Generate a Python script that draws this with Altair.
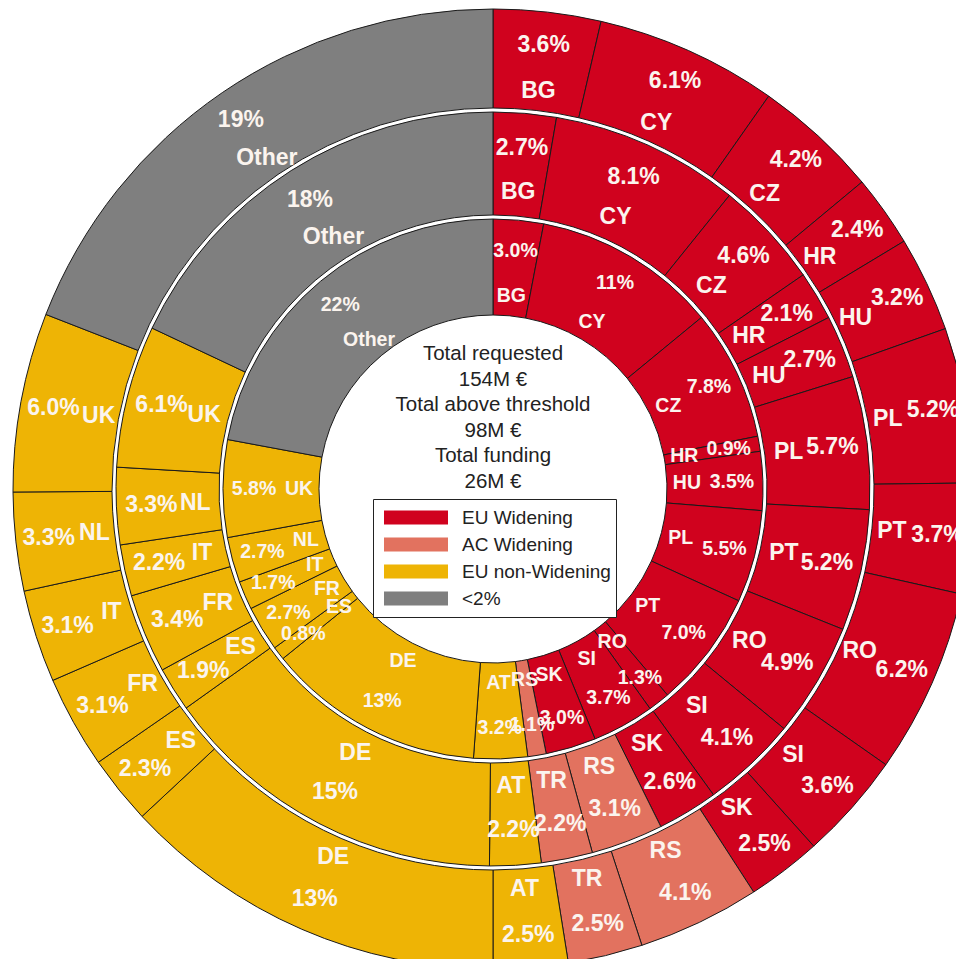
import math
import altair as alt
import pandas as pd

# ---- data ----
codes = ["BG", "CY", "CZ", "HR", "HU", "PL", "PT", "RO", "SI", "SK",
         "RS", "TR", "AT", "DE", "ES", "FR", "IT", "NL", "UK", "Other"]
groups = (["EU Widening"] * 10 + ["AC Widening"] * 2 +
          ["EU non-Widening"] * 7 + ["<2%"])

outer_values = [3.6, 6.1, 4.2, 2.4, 3.2, 5.2, 3.7, 6.2, 3.6, 2.5,
                4.1, 2.5, 2.5, 13, 2.3, 3.1, 3.1, 3.3, 6.0, 19]
middle_values = [2.7, 8.1, 4.6, 2.1, 2.7, 5.7, 5.2, 4.9, 4.1, 2.6,
                 3.1, 2.2, 2.2, 15, 1.9, 3.4, 2.2, 3.3, 6.1, 18]
# inner ring has no TR segment
inner_codes = [c for c in codes if c != "TR"]
inner_groups = [g for c, g in zip(codes, groups) if c != "TR"]
inner_values = [3.0, 11, 7.8, 0.9, 3.5, 5.5, 7.0, 1.3, 3.7, 3.0,
                1.1, 3.2, 13, 0.8, 2.7, 1.7, 2.7, 5.8, 22]

legend_labels = ["EU Widening", "AC Widening", "EU non-Widening", "<2%"]
legend_colors = ["#D0021E", "#E2725F", "#EEB405", "#7F7F7F"]

center_lines = ["Total requested", "154M €", "Total above threshold",
                "98M €", "Total funding", "26M €"]


def fmt(v):
    return f"{v:.0f}%" if v >= 10 else f"{v:.1f}%"


rows = []
for ring, cs, gs, vs in [("outer", codes, groups, outer_values),
                         ("middle", codes, groups, middle_values),
                         ("inner", inner_codes, inner_groups, inner_values)]:
    for i, (c, g, v) in enumerate(zip(cs, gs, vs)):
        rows.append({"ring": ring, "order": i, "code": c, "group": g,
                     "value": v, "pct": fmt(v)})
df = pd.DataFrame(rows)

CX, CY = 485, 481  # centre of the rings inside the view

theta_scale = alt.Scale(domain=[0, 1], range=[0, 2 * math.pi])
color = alt.Color(
    "group:N",
    scale=alt.Scale(domain=legend_labels, range=legend_colors),
    legend=alt.Legend(
        title=None, orient="none", legendX=365, legendY=491,
        direction="vertical",
        symbolType="M-1,-0.22H1V0.22H-1Z", symbolSize=4096,
        symbolStrokeWidth=0, symbolOffset=6, clipHeight=27, rowPadding=0,
        labelFontSize=19, labelFont="Liberation Sans", labelColor="#222222",
        labelOffset=14, padding=5, strokeColor="#222222", fillColor="white",
        labelLimit=300,
    ),
)

rings = {
    "outer": dict(inner=381, outer=480, code_r=401, pct_r=447, fs=23),
    "middle": dict(inner=274, outer=377, code_r=298, pct_r=342, fs=23),
    "inner": dict(inner=174, outer=270, code_r=194, pct_r=239, fs=19.5),
}

layers = []
for name, r in rings.items():
    f = alt.datum.ring == name
    layers.append(
        alt.Chart().mark_arc(innerRadius=r["inner"], outerRadius=r["outer"],
                             stroke="#1a1a1a", strokeWidth=1)
        .encode(x=alt.value(CX), y=alt.value(CY),
                theta=alt.Theta("start:Q", scale=theta_scale),
                theta2="end:Q", color=color)
        .transform_filter(f)
    )
for name, r in rings.items():
    f = alt.datum.ring == name
    for field, rad in [("code", r["code_r"]), ("pct", r["pct_r"])]:
        layers.append(
            alt.Chart().mark_text(radius=rad, font="Liberation Sans",
                                  fontWeight="bold", fontSize=r["fs"],
                                  color="#FBF4EE", align="center",
                                  baseline="middle")
            .encode(x=alt.value(CX), y=alt.value(CY),
                    theta=alt.Theta("mid:Q", scale=theta_scale),
                    text=f"{field}:N")
            .transform_filter(f)
        )

center = alt.Chart().mark_text(
    font="Liberation Sans", fontSize=20.5, color="#222222",
    lineHeight=25.6, dy=-135, align="center", baseline="middle"
).encode(
    x=alt.value(CX), y=alt.value(CY), text=alt.value(center_lines)
).transform_filter((alt.datum.ring == "outer") & (alt.datum.order == 0))
layers.append(center)

chart = (
    alt.layer(*layers, data=df)
    .transform_joinaggregate(total="sum(value)", groupby=["ring"])
    .transform_window(cum="sum(value)", groupby=["ring"],
                      sort=[alt.SortField("order")], frame=[None, 0])
    .transform_calculate(
        start="(datum.cum - datum.value) / datum.total",
        end="datum.cum / datum.total",
        mid="(datum.cum - datum.value / 2) / datum.total",
    )
    .properties(width=948, height=951, padding=0,
                autosize=alt.AutoSizeParams(type="none"))
    .configure_view(strokeWidth=0)
)

chart.save("out.html", embed_options={"renderer": "svg", "actions": False})
